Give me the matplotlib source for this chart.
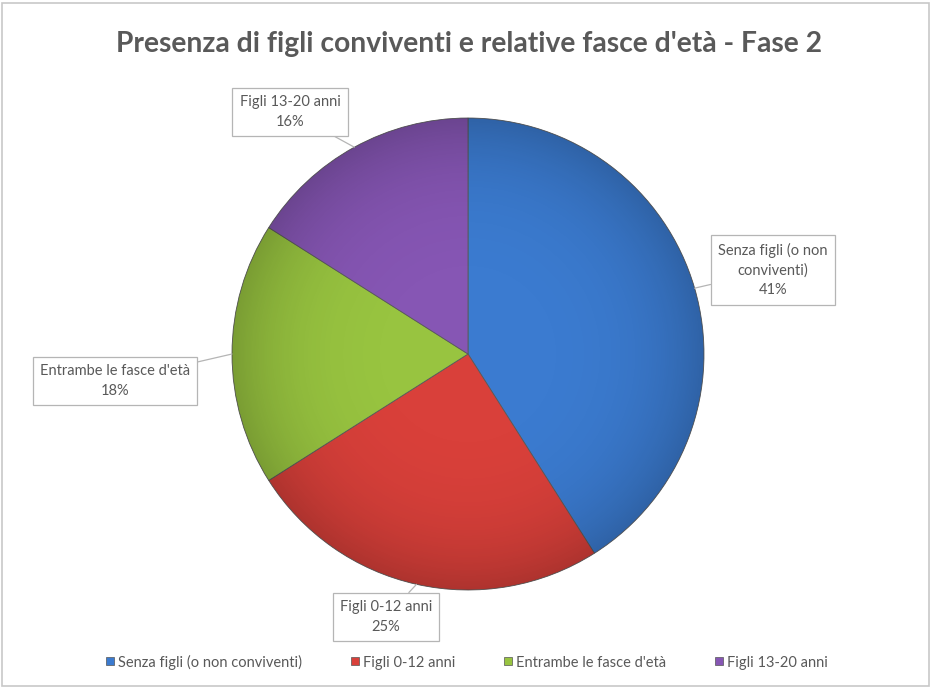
import numpy as np
import matplotlib
matplotlib.use('Agg')
import matplotlib.pyplot as plt
from matplotlib.patches import Rectangle, Circle
from matplotlib.lines import Line2D

plt.rcParams['font.family'] = ['Lato', 'DejaVu Sans']

# share of respondents by cohabiting children
categories = ['Senza figli (o non conviventi)', 'Figli 0-12 anni',
              "Entrambe le fasce d'età", 'Figli 13-20 anni']
values = [41, 25, 18, 16]
box_labels = ['Senza figli (o non\nconviventi)', 'Figli 0-12 anni',
              "Entrambe le fasce d'età", 'Figli 13-20 anni']
colors = ['#3B7BD0', '#D9403A', '#98C440', '#8656B4']
title = "Presenza di figli conviventi e relative fasce d'età - Fase 2"

W, H = 932, 688
fig = plt.figure(figsize=(W / 100, H / 100), dpi=100)
ax = fig.add_axes([0, 0, 1, 1])
ax.set_aspect('equal')

cx, cy, r = 468, H - 354, 236
wedges, _ = ax.pie(values, colors=colors, startangle=90, counterclock=False,
                   center=(cx, cy), radius=r, frame=True,
                   wedgeprops=dict(edgecolor='#5a5a5a', linewidth=0.6))

# soft darkening toward the rim
yy, xx = np.mgrid[-1:1:400j, -1:1:400j]
rr = np.sqrt(xx ** 2 + yy ** 2)
shade = np.zeros((400, 400, 4))
shade[..., 3] = np.clip(rr, 0, 1) ** 4 * 0.2
img = ax.imshow(shade, extent=(cx - r, cx + r, cy - r, cy + r), zorder=3)
img.set_clip_path(Circle((cx, cy), r, transform=ax.transData))
ax.set_xlim(0, W)
ax.set_ylim(0, H)
ax.axis('off')

# callout boxes, placed in pixel units
box_pos = [(773, 270), (386, 617), (115, 381), (290, 112)]
cum = np.cumsum([0] + values)
for i, (lbl, v) in enumerate(zip(box_labels, values)):
    mid = np.deg2rad(90 - (cum[i] + v / 2) / sum(values) * 360)
    px, py = cx + r * np.cos(mid), cy + r * np.sin(mid)
    bx, by = box_pos[i]
    ax.annotate(f'{lbl}\n{v}%', xy=(px, py), xytext=(bx, H - by),
                ha='center', va='center', multialignment='center',
                fontsize=10.5, color='#595959', linespacing=1.5, zorder=5,
                bbox=dict(boxstyle='square,pad=0.5', fc='white',
                          ec='#b5b5b5', lw=0.9),
                arrowprops=dict(arrowstyle='-', color='#b5b5b5', lw=0.9,
                                shrinkA=0, shrinkB=0))

ax.text(W / 2 + 3, H - 44, title, ha='center', va='center',
        fontsize=20.3, fontweight='bold', color='#595959')

handles = [Line2D([], [], marker='s', linestyle='none', markersize=6,
                  markerfacecolor=c, markeredgecolor='#555555',
                  markeredgewidth=0.5) for c in colors]
fig.legend(handles, categories, loc='center', bbox_to_anchor=(0.5, 1 - 662 / H),
           ncol=4, frameon=False, fontsize=10.5, labelcolor='#595959',
           handletextpad=0.15, columnspacing=3.2, handlelength=0.8)

fig.add_artist(Rectangle((2 / W, 2 / H), 1 - 5 / W, 1 - 5 / H,
                         transform=fig.transFigure, fill=False,
                         ec='#c8c8c8', lw=1.2))

fig.savefig('out.png', dpi=100, facecolor='white')
